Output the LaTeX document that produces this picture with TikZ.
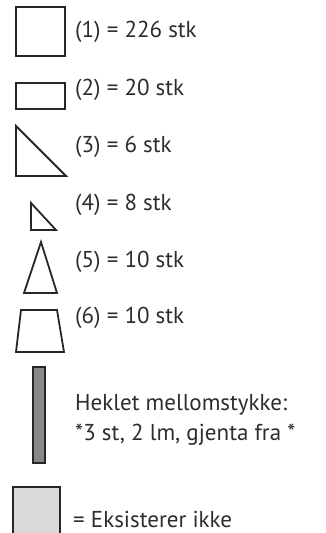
\documentclass[tikz,border=0pt]{standalone}
\usepackage{fontspec}
\setmainfont{PT Sans}
\usetikzlibrary{positioning}
\definecolor{legendtext}{RGB}{45, 45, 45}
\definecolor{barfill}{RGB}{136, 136, 136}
\definecolor{nonefill}{RGB}{217, 217, 217}

\begin{document}
\begin{tikzpicture}[x=1pt, y=-1pt,
      legendshape/.style={draw=black!85, line width=1.8pt, line join=miter},
      legendlabel/.style={anchor=west, inner sep=0pt, text=legendtext, font=\fontsize{23}{30}\selectfont, align=left}
    ]
      \useasboundingbox (0,0) rectangle (325,533);

      % shapes
      \draw[legendshape] (16,7) rectangle (65,56);
      \draw[legendshape] (16,83) rectangle (65,109);
      \draw[legendshape] (16,126) -- (16,176) -- (66,176) -- cycle;
      \draw[legendshape] (31,203) -- (31,230) -- (56,230) -- cycle;
      \draw[legendshape] (41,242) -- (24,293) -- (57,293) -- cycle;
      \draw[legendshape] (21,310) -- (57,310) -- (64,352) -- (16,352) -- cycle;
      \draw[legendshape, fill=barfill] (33,367) rectangle (45,463);
      \draw[legendshape, fill=nonefill] (13,487) rectangle (60,540);

      % labels
      \node[legendlabel] (l1) at (75,32) {(1) = 226 stk};
      \node[legendlabel] (l2) at (75,90) {(2) = 20 stk};
      \node[legendlabel] (l3) at (75,147) {(3) = 6 stk};
      \node[legendlabel] (l4) at (75,205) {(4) = 8 stk};
      \node[legendlabel] (l5) at (75,262) {(5) = 10 stk};
      \node[legendlabel] (l6) at (75,318) {(6) = 10 stk};
      \node[legendlabel] (l7) at (75,420) {Heklet mellomstykke:\\*3 st, 2 lm, gjenta fra *};
      \node[legendlabel] (l8) at (73,519) {= Eksisterer ikke};
    \end{tikzpicture}
\end{document}
